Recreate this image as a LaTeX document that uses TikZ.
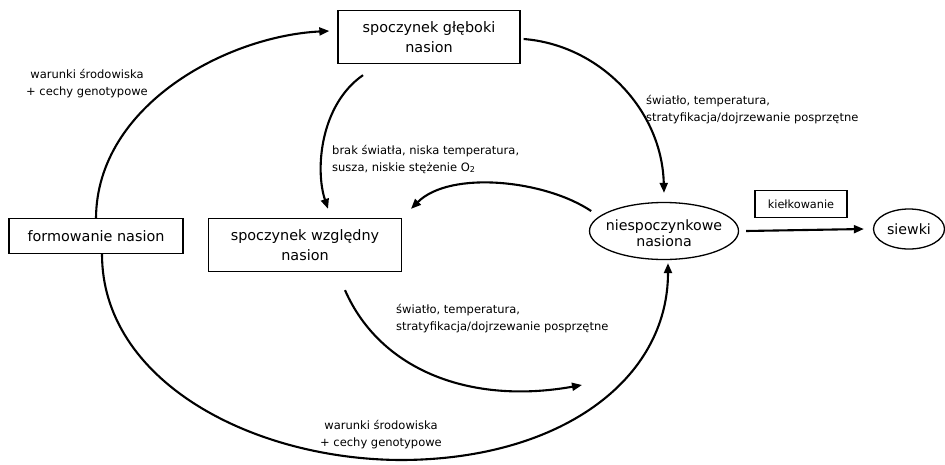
\documentclass[tikz,border=0pt]{standalone}
\usepackage{fontspec}
\setmainfont{DejaVu Sans}
\usetikzlibrary{arrows.meta,shapes.geometric}
\tikzset{
  stagebox/.style={draw, line width=1.3pt, align=center, inner sep=2pt,
    font={\fontsize{14.4pt}{20pt}\selectfont}},
  stageoval/.style={ellipse, draw, line width=1.3pt, inner sep=0pt},
  stagetext/.style={align=center, inner sep=0pt,
    font={\fontsize{14.2pt}{16.5pt}\selectfont}},
  cond/.style={align=left, inner sep=0pt,
    font={\fontsize{11.5pt}{17pt}\selectfont}},
  condc/.style={cond, align=center},
  flow/.style={line width=2.1pt, -{Triangle[length=10pt,width=8pt]}}
}
\begin{document}
\begin{tikzpicture}[x=1pt,y=-1pt]
\useasboundingbox (0,0) rectangle (945,464);

% stages of the seed cycle
\node[stagebox, minimum width=182pt, minimum height=53pt] (deep) at (429,37) {spoczynek głęboki\\nasion};
\node[stagebox, minimum width=174pt, minimum height=35pt] (form) at (96,236) {formowanie nasion};
\node[stagebox, minimum width=193pt, minimum height=53pt] (rel) at (305,245) {spoczynek względny\\nasion};
\node[stageoval, minimum width=149pt, minimum height=57pt] (free) at (664,231) {};
\node[stagetext] (freetxt) at ([yshift=-2pt]free.center) {niespoczynkowe\\nasiona};
\node[stageoval, minimum width=71pt, minimum height=40pt] (seedl) at (909,229) {};
\node[stagetext] (seedltxt) at (seedl.center) {siewki};
\node[draw, line width=1.3pt, minimum width=92pt, minimum height=27pt, inner sep=0pt,
      font={\fontsize{11.3pt}{13pt}\selectfont}] (germ) at (801,204) {kiełkowanie};

% transitions
\draw[flow] (form.north) .. controls (97,105) and (227,36) .. ([xshift=-8pt,yshift=6pt]deep.west);
\draw[flow] ([xshift=3pt,yshift=-2pt]deep.east) .. controls (600,45) and (662,110) .. ([yshift=9pt]free.north);
\draw[flow] ([xshift=-66pt,yshift=-11pt]deep.south) .. controls (320,105) and (315,170) .. ([xshift=23pt,yshift=9pt]rel.north);
\draw[flow] ([xshift=-18pt]free.160) .. controls (545,180) and (450,170) .. ([xshift=106pt,yshift=9pt]rel.north);
\draw[flow] ([xshift=40pt,yshift=-18pt]rel.south) .. controls (380,370) and (470,405) .. (582,385);
\draw[flow] ([xshift=6pt]form.south) .. controls (102,380) and (250,459) .. (400,460)
            .. controls (560,460) and (668,380) .. ([xshift=4pt,yshift=-3pt]free.south);
\draw[flow] ([xshift=7pt]free.east) -- ([xshift=-9pt]seedl.west);

% conditions
\node[condc] (c1) at (87,84) {warunki środowiska\\+ cechy genotypowe};
\node[cond, anchor=west] (c2) at (332,159) {brak światła, niska temperatura,\\susza, niskie stężenie O\textsubscript{2}};
\node[cond, anchor=west] (c3) at (646,110) {światło, temperatura,\\stratyfikacja/dojrzewanie posprzętne};
\node[cond, anchor=west] (c4) at (396,319) {światło, temperatura,\\stratyfikacja/dojrzewanie posprzętne};
\node[condc] (c5) at (381,435) {warunki środowiska\\+ cechy genotypowe};
\end{tikzpicture}
\end{document}
